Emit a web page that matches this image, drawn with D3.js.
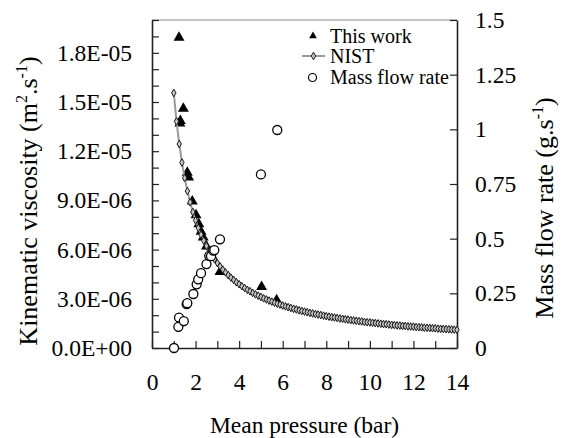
<!DOCTYPE html>
<html>
<head>
<meta charset="utf-8">
<script src="https://cdn.jsdelivr.net/npm/d3@7"></script>
<style>
  html, body { margin: 0; padding: 0; background: #fff; }
  svg { display: block; }
</style>
</head>
<body>
<svg id="chart" width="562" height="438"></svg>
<script>
// ---- Data ----
// This work: kinematic viscosity measurements (m2/s)
const thisWorkP  = [1.24, 1.28, 1.30, 1.44, 1.62, 1.68, 1.85, 2.02, 2.15, 2.25, 2.35, 2.50, 2.78, 3.12, 5.03, 5.72];
const thisWorkNu = [18.93e-6, 13.7e-6, 13.85e-6, 14.6e-6, 10.7e-6, 10.4e-6, 8.95e-6, 8.1e-6, 7.55e-6, 7.1e-6, 6.75e-6, 6.2e-6, 5.56e-6, 4.64e-6, 3.73e-6, 2.92e-6];

// NIST reference curve
const nistP = [1.000,1.125,1.250,1.375,1.500,1.625,1.750,1.875,2.000,2.125,2.250,2.375,2.500,2.625,2.750,2.875,
  3.000,3.125,3.250,3.375,3.500,3.625,3.750,3.875,4.000,4.125,4.250,4.375,4.500,4.625,4.750,4.875,
  5.000,5.125,5.250,5.375,5.500,5.625,5.750,5.875,6.000,6.125,6.250,6.375,6.500,6.625,6.750,6.875,
  7.000,7.125,7.250,7.375,7.500,7.625,7.750,7.875,8.000,8.125,8.250,8.375,8.500,8.625,8.750,8.875,
  9.000,9.125,9.250,9.375,9.500,9.625,9.750,9.875,10.000,10.125,10.250,10.375,10.500,10.625,10.750,10.875,
  11.000,11.125,11.250,11.375,11.500,11.625,11.750,11.875,12.000,12.125,12.250,12.375,12.500,12.625,12.750,12.875,
  13.000,13.125,13.250,13.375,13.500,13.625,13.750,13.875,14.000];
const nistNuE6 = [15.55,13.82,12.44,11.31,10.37,9.57,8.89,8.29,7.78,7.32,6.91,6.55,6.22,5.92,5.65,5.41,
  5.18,4.98,4.78,4.61,4.44,4.29,4.15,4.01,3.89,3.77,3.66,3.55,3.46,3.36,3.27,3.19,
  3.11,3.03,2.96,2.89,2.83,2.76,2.70,2.65,2.59,2.54,2.49,2.44,2.39,2.35,2.30,2.26,
  2.22,2.18,2.14,2.11,2.07,2.04,2.01,1.97,1.94,1.91,1.88,1.86,1.83,1.80,1.78,1.75,
  1.73,1.70,1.68,1.66,1.64,1.62,1.59,1.57,1.56,1.54,1.52,1.50,1.48,1.46,1.45,1.43,
  1.41,1.40,1.38,1.37,1.35,1.34,1.32,1.31,1.30,1.28,1.27,1.26,1.24,1.23,1.22,1.21,
  1.20,1.18,1.17,1.16,1.15,1.14,1.13,1.12,1.11];

// Mass flow rate (g/s), right axis
const massP    = [1.01, 1.21, 1.24, 1.46, 1.59, 1.62, 1.90, 2.05, 2.12, 2.25, 2.50, 2.63, 2.71, 2.81, 2.86, 3.12, 5.00, 5.75];
const massFlow = [0.000, 0.097, 0.139, 0.123, 0.201, 0.205, 0.247, 0.291, 0.314, 0.342, 0.384, 0.421, 0.420, 0.445, 0.448, 0.497, 0.794, 0.997];

// Ticks
const xTickValues = [0,2,4,6,8,10,12,14];
const xTickLabels = ["0","2","4","6","8","10","12","14"];
const nuTickValues = [0, 3e-6, 6e-6, 9e-6, 12e-6, 15e-6, 18e-6];
const nuTickLabels = ["0.0E+00","3.0E-06","6.0E-06","9.0E-06","1.2E-05","1.5E-05","1.8E-05"];
const mTickValues = [0, 0.25, 0.5, 0.75, 1, 1.25, 1.5];
const mTickLabels = ["0","0.25","0.5","0.75","1","1.25","1.5"];

const legendLabels = ["This work", "NIST", "Mass flow rate"];

// ---- Layout ----
const FONT = "'Liberation Serif'";
const L = 152, R = 457, T = 20, B = 348;
const svg = d3.select("#chart");

const x = d3.scaleLinear().domain([0, 14]).range([L, R]);
const yNu = d3.scaleLinear().domain([0, 2e-5]).range([B, T]);
const yM = d3.scaleLinear().domain([0, 1.5]).range([B, T]);

// top frame line
svg.append("line").attr("x1", L).attr("x2", R).attr("y1", T).attr("y2", T)
  .attr("stroke", "#8a8a8a").attr("stroke-width", 1);

// minor ticks
const xMinor = d3.range(0, 15, 1);
const nuMinor = d3.range(0, 21, 1).map(i => i * 1e-6);

const gx = svg.append("g").attr("transform", `translate(0,${B})`)
  .call(d3.axisBottom(x).tickValues(xMinor).tickSizeInner(-7).tickSizeOuter(0).tickPadding(25)
    .tickFormat(d => { const i = xTickValues.indexOf(d); return i >= 0 ? xTickLabels[i] : ""; }));

const gyl = svg.append("g").attr("transform", `translate(${L},0)`)
  .call(d3.axisLeft(yNu).tickValues(nuMinor).tickSizeInner(-7).tickSizeOuter(0).tickPadding(20)
    .tickFormat(d => { const i = nuTickValues.findIndex(v => Math.abs(v - d) < 1e-9); return i >= 0 ? nuTickLabels[i] : ""; }));

const gyr = svg.append("g").attr("transform", `translate(${R},0)`)
  .call(d3.axisRight(yM).tickValues(mTickValues).tickSizeInner(-7).tickSizeOuter(0).tickPadding(18)
    .tickFormat((d, i) => mTickLabels[i]));

[gx, gyl, gyr].forEach(g => {
  g.attr("font-family", null).attr("font-size", null);
  g.selectAll("path.domain").attr("stroke", "#222").attr("stroke-width", 1.6);
  g.selectAll(".tick line").attr("stroke", "#222").attr("stroke-width", 1.2);
  g.selectAll(".tick text").attr("font-size", 23.5).style("font-family", FONT).attr("fill", "#000");
});

// ---- Marks ----
const tri = d3.symbol().type(d3.symbolTriangle).size(52);
const triLegend = d3.symbol().type(d3.symbolTriangle).size(26);
const diamond = d3.symbol().type(d3.symbolDiamond).size(17);

// This work triangles
svg.append("g").selectAll("path").data(thisWorkP).join("path")
  .attr("d", tri)
  .attr("transform", (d, i) => `translate(${x(d)},${yNu(thisWorkNu[i])})`)
  .attr("fill", "#000");

// NIST line + diamonds
const nist = nistP.map((p, i) => [p, nistNuE6[i] * 1e-6]);
svg.append("path").datum(nist)
  .attr("d", d3.line().x(d => x(d[0])).y(d => yNu(d[1])))
  .attr("fill", "none").attr("stroke", "#9a9a9a").attr("stroke-width", 2);
svg.append("g").selectAll("path").data(nist).join("path")
  .attr("d", diamond)
  .attr("transform", d => `translate(${x(d[0])},${yNu(d[1])})`)
  .attr("fill", "#c4c4c4").attr("stroke", "#1a1a1a").attr("stroke-width", 1);

// Mass flow circles
svg.append("g").selectAll("circle").data(massP).join("circle")
  .attr("cx", d => x(d))
  .attr("cy", (d, i) => yM(massFlow[i]))
  .attr("r", 4.5)
  .attr("fill", "#fff").attr("stroke", "#000").attr("stroke-width", 1.3);

// ---- Legend ----
const lg = svg.append("g");
lg.append("path").attr("d", triLegend).attr("transform", "translate(313,36)").attr("fill", "#000");
lg.append("line").attr("x1", 302).attr("x2", 325).attr("y1", 56).attr("y2", 56)
  .attr("stroke", "#9a9a9a").attr("stroke-width", 2);
lg.append("path").attr("d", diamond).attr("transform", "translate(313.5,56)")
  .attr("fill", "#c4c4c4").attr("stroke", "#1a1a1a").attr("stroke-width", 1);
lg.append("circle").attr("cx", 312.5).attr("cy", 77.5).attr("r", 4)
  .attr("fill", "#fff").attr("stroke", "#000").attr("stroke-width", 1.2);
const legY = [42.5, 63, 83.5];
legendLabels.forEach((t, i) => {
  lg.append("text").attr("x", 330).attr("y", legY[i]).attr("font-size", 20).style("font-family", FONT).text(t);
});

// ---- Axis titles ----
svg.append("text").attr("x", x(7)).attr("y", 433).attr("text-anchor", "middle")
  .attr("font-size", 23.5).style("font-family", FONT).text("Mean pressure (bar)");

const lt = svg.append("text").attr("transform", "translate(37,201) rotate(-90)")
  .attr("text-anchor", "middle").attr("font-size", 26).style("font-family", FONT);
lt.append("tspan").text("Kinematic viscosity (m");
lt.append("tspan").attr("dy", -10).attr("font-size", 16).text("2");
lt.append("tspan").attr("dy", 10).text(".s");
lt.append("tspan").attr("dy", -10).attr("font-size", 16).text("-1");
lt.append("tspan").attr("dy", 10).text(")");

const rt = svg.append("text").attr("transform", "translate(553,208) rotate(-90)")
  .attr("text-anchor", "middle").attr("font-size", 26).style("font-family", FONT);
rt.append("tspan").text("Mass flow rate (g.s");
rt.append("tspan").attr("dy", -10).attr("font-size", 16).text("-1");
rt.append("tspan").attr("dy", 10).text(")");
</script>
</body>
</html>
